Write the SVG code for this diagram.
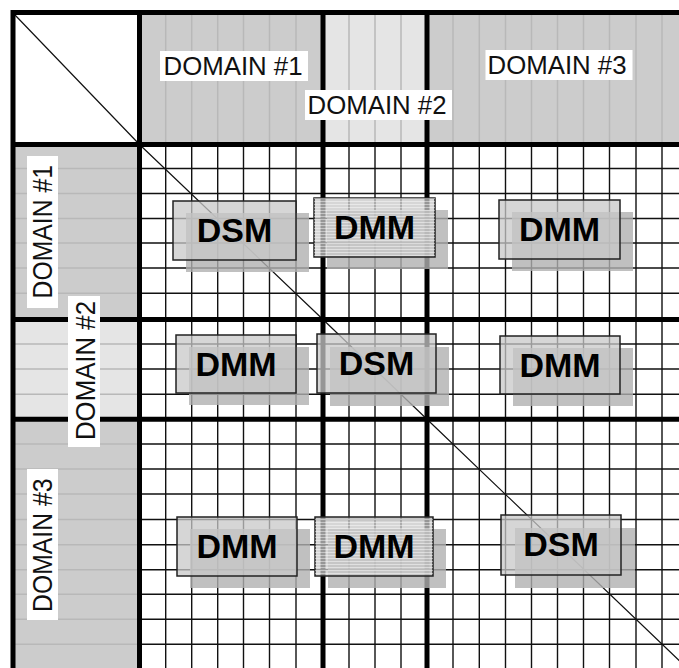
<svg xmlns="http://www.w3.org/2000/svg" width="679" height="668" viewBox="0 0 679 668">
<style>
.bg{fill:#ffffff}
.dark{fill:#cccccc}
.light{fill:#e5e5e5}
.faint{stroke:#b8b8b8;stroke-width:1.5;fill:none}
.grid{stroke:#111111;stroke-width:1.4;fill:none}
.thick{stroke:#000000;stroke-width:5;fill:none}
.diag{stroke:#111111;stroke-width:1.2;fill:none}
.lab{fill:#ffffff}
.labt{font-family:"Liberation Sans",Arial,sans-serif;font-size:25.8px;fill:#111111}
.shadow{fill:#b0b0b0;fill-opacity:0.8}
.box{fill:#c8c8c8;fill-opacity:0.75;stroke:#222222;stroke-width:1.5}
.bt{font-family:"Liberation Sans",Arial,sans-serif;font-weight:bold;font-size:34px;fill:#000000;text-anchor:middle}
</style>
<defs>
<pattern id="stripes" width="4" height="3" patternUnits="userSpaceOnUse">
<rect x="0" y="0" width="4" height="1" fill="#ffffff" fill-opacity="0.45"/>
</pattern>
</defs>
<rect class="bg" x="0" y="0" width="679" height="668"/>
<g id="header">
<rect class="dark" x="139.5" y="12.5" width="183.5" height="132"/>
<rect class="light" x="323" y="12.5" width="104" height="132"/>
<rect class="dark" x="427" y="12.5" width="252" height="132"/>
<path class="faint" d="M165.7 15V142M191.7 15V142M217.7 15V142M243.5 15V142M269.5 15V142M296 15V142M349 15V142M375 15V142M401 15V142M453 15V142M479.3 15V142M505.5 15V142M531.5 15V142M557.5 15V142M583.5 15V142M609.5 15V142M636 15V142M662 15V142"/>
</g>
<g id="leftcol">
<rect class="dark" x="13" y="144.5" width="126.5" height="175"/>
<rect class="light" x="13" y="319.5" width="126.5" height="100"/>
<rect class="dark" x="13" y="419.3" width="126.5" height="250"/>
<path class="faint" d="M15 168.5H137M15 193.5H137M15 218.5H137M15 243H137M15 268H137M15 293.3H137M15 344H137M15 369H137M15 394.3H137M15 444H137M15 469H137M15 494H137M15 519.5H137M15 544.8H137M15 569.8H137M15 594.3H137M15 619.3H137M15 644.3H137"/>
</g>
<g id="connectors">
<path class="grid" d="M165.7 144.5V668M191.7 144.5V668M217.7 144.5V668M243.5 144.5V668M269.5 144.5V668M296 144.5V668M349 144.5V668M375 144.5V668M401 144.5V668M453 144.5V668M479.3 144.5V668M505.5 144.5V668M531.5 144.5V668M557.5 144.5V668M583.5 144.5V668M609.5 144.5V668M636 144.5V668M662 144.5V668"/>
<path class="grid" d="M139.5 168.5H679M139.5 193.5H679M139.5 218.5H679M139.5 243H679M139.5 268H679M139.5 293.3H679M139.5 344H679M139.5 369H679M139.5 394.3H679M139.5 444H679M139.5 469H679M139.5 494H679M139.5 519.5H679M139.5 544.8H679M139.5 569.8H679M139.5 594.3H679M139.5 619.3H679M139.5 644.3H679"/>
<polyline class="diag" points="15,15 139.5,144.5 323,319.5 427,419.3 688,669"/>
<path class="thick" d="M10.5 12.5H679M13 10V668M10.5 144.5H679M139.5 10V668M323 10V668M427 10V668M10.5 319.5H679M10.5 419.3H679"/>
</g>
<g id="label-top-1"><rect class="lab" x="160" y="51" width="148" height="30"/><text class="labt" x="163.5" y="74.5">DOMAIN #1</text></g>
<g id="label-top-2"><rect class="lab" x="305" y="90" width="147" height="30"/><text class="labt" x="307.5" y="114">DOMAIN #2</text></g>
<g id="label-top-3"><rect class="lab" x="485.5" y="50" width="147" height="30"/><text class="labt" x="487.5" y="74">DOMAIN #3</text></g>
<g id="label-left-1"><rect class="lab" x="27" y="156" width="31" height="152"/><text class="labt" transform="translate(51.5,298.5) rotate(-90) scale(0.96,1.06)">DOMAIN #1</text></g>
<g id="label-left-2"><rect class="lab" x="68" y="296" width="32" height="151"/><text class="labt" transform="translate(95,440) rotate(-90) scale(1,1.1)">DOMAIN #2</text></g>
<g id="label-left-3"><rect class="lab" x="27" y="469" width="31" height="151"/><text class="labt" transform="translate(51.7,612) rotate(-90) scale(0.96,1.06)">DOMAIN #3</text></g>
<g id="box-11"><rect class="shadow" x="186" y="213" width="123" height="59"/><rect class="box" x="173" y="201" width="123" height="59"/><text class="bt" x="234.5" y="242">DSM</text></g>
<g id="box-12"><rect class="shadow" x="327" y="210" width="121" height="59"/><rect class="box" x="314" y="198" width="121" height="59"/><rect x="314" y="198" width="121" height="59" fill="url(#stripes)"/><text class="bt" x="374.5" y="239">DMM</text></g>
<g id="box-13"><rect class="shadow" x="512" y="212" width="121" height="59"/><rect class="box" x="499" y="200" width="121" height="59"/><text class="bt" x="559.5" y="241">DMM</text></g>
<g id="box-21"><rect class="shadow" x="189" y="347" width="120" height="58"/><rect class="box" x="176" y="335" width="120" height="58"/><text class="bt" x="236" y="376">DMM</text></g>
<g id="box-22"><rect class="shadow" x="330" y="347" width="119" height="59"/><rect class="box" x="317" y="334" width="119" height="59"/><text class="bt" x="376.5" y="375">DSM</text></g>
<g id="box-23"><rect class="shadow" x="513" y="348" width="120" height="58"/><rect class="box" x="500" y="336" width="120" height="58"/><text class="bt" x="560" y="377">DMM</text></g>
<g id="box-31"><rect class="shadow" x="190" y="529" width="120" height="59"/><rect class="box" x="177" y="517" width="120" height="59"/><text class="bt" x="237" y="558">DMM</text></g>
<g id="box-32"><rect class="shadow" x="328" y="529" width="118" height="59"/><rect class="box" x="315" y="517" width="118" height="59"/><rect x="315" y="517" width="118" height="59" fill="url(#stripes)"/><text class="bt" x="374" y="558">DMM</text></g>
<g id="box-33"><rect class="shadow" x="515" y="528" width="120" height="60"/><rect class="box" x="501" y="515" width="120" height="60"/><text class="bt" x="561" y="556">DSM</text></g>
</svg>
